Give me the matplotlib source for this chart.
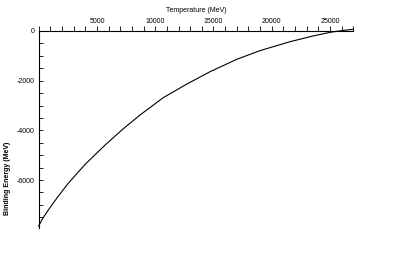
import matplotlib
matplotlib.use("Agg")
import matplotlib.pyplot as plt
from matplotlib.ticker import MultipleLocator

temperature = [0, 300, 800, 1600, 2500, 4000, 5700, 7200, 8700, 10700, 12700,
               14700, 17000, 19000, 21500, 23500, 25000, 26000, 27000]
energy = [-7850, -7580, -7220, -6700, -6150, -5360, -4590, -3960, -3380, -2680, -2140,
          -1640, -1140, -790, -440, -205, -55, 15, 70]

plt.rcParams['font.family'] = ['Liberation Sans', 'DejaVu Sans']
plt.rcParams['axes.unicode_minus'] = False

fig = plt.figure(figsize=(3.93, 2.54), dpi=100)
ax = fig.add_axes([0.0985, 0.1024, 0.8005, 0.7756])

ax.plot(temperature, energy, color='black', linewidth=0.8, clip_on=False)

ax.set_xlim(0, 27000)
ax.set_ylim(-7930, 0)

for s in ['right', 'bottom']:
    ax.spines[s].set_visible(False)
for s in ['left', 'top']:
    ax.spines[s].set_linewidth(0.8)

ax.xaxis.tick_top()
ax.xaxis.set_label_position('top')
ax.xaxis.set_major_locator(MultipleLocator(5000))
ax.xaxis.set_minor_locator(MultipleLocator(1000))
ax.yaxis.set_major_locator(MultipleLocator(2000))
ax.yaxis.set_minor_locator(MultipleLocator(500))

ax.tick_params(axis='x', which='both', direction='out', length=3.5, width=0.6,
               labelsize=5, pad=1)
ax.tick_params(axis='y', which='both', direction='in', length=3, width=0.6,
               labelsize=5, pad=3)
ax.set_xticks([5000, 10000, 15000, 20000, 25000])

ax.set_xlabel('Temperature (MeV)', fontsize=5, labelpad=4)
ax.set_ylabel('Binding Energy (MeV)', fontsize=5, fontweight='bold')
ax.yaxis.set_label_coords(-0.088, 0.25)

fig.savefig('out.png', dpi=100)
